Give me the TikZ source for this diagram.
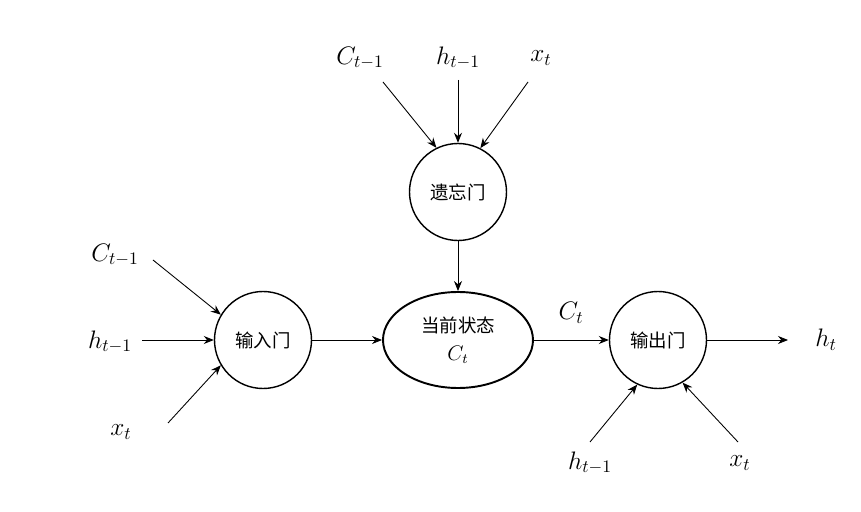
\documentclass[tikz,border=0pt]{standalone}
\usepackage{fontspec}
\newfontfamily\cjk{Noto Sans CJK SC}
\usetikzlibrary{shapes.geometric,arrows.meta}

\tikzset{
    gate/.style={draw, circle, line width=0.8pt, minimum size=1.94cm, font=\cjk\fontsize{10.5}{12}\selectfont},
    cellstate/.style={draw, ellipse, line width=1.1pt, minimum width=3cm, minimum height=1.92cm, align=center, font=\cjk\fontsize{10.5}{12}\selectfont},
    lbl/.style={font=\Large},
    flow/.style={-{Stealth[length=2mm,width=1.6mm]}, line width=0.5pt}
}

\begin{document}
\begin{tikzpicture}
    \useasboundingbox (0,0) rectangle (17.22,10.24);
    % gates and cell state
    \node[gate] (forget) at (9.16,6.40) {遗忘门};
    \node[gate] (input) at (5.26,3.44) {输入门};
    \node[cellstate] (state) at (9.16,3.44) {当前状态\\[4pt]{\normalfont\large $C_t$}};
    \node[gate] (output) at (13.16,3.44) {输出门};
    % input labels
    \node[lbl] (fC) at (7.20,9.08) {$C_{t-1}$};
    \node[lbl] (fh) at (9.16,9.08) {$h_{t-1}$};
    \node[lbl] (fx) at (10.82,9.08) {$x_t$};
    \node[lbl] (iC) at (2.30,5.14) {$C_{t-1}$};
    \node[lbl] (ih) at (2.20,3.40) {$h_{t-1}$};
    \node[lbl] (ix) at (2.42,1.60) {$x_t$};
    \node[lbl] (oh) at (11.80,0.98) {$h_{t-1}$};
    \node[lbl] (ox) at (14.80,0.98) {$x_t$};
    \node[lbl] (ht) at (16.52,3.44) {$h_t$};
    \node[lbl] (ct) at (11.42,3.98) {$C_t$};
    % free ends of the connectors
    \coordinate (fCs) at (7.66,8.60);
    \coordinate (fhs) at (9.16,8.64);
    \coordinate (fxs) at (10.56,8.60);
    \coordinate (iCs) at (3.06,5.04);
    \coordinate (ihs) at (2.84,3.44);
    \coordinate (ixs) at (3.36,1.78);
    \coordinate (ohs) at (11.80,1.40);
    \coordinate (oxs) at (14.76,1.40);
    \coordinate (hte) at (15.76,3.44);
    % connectors
    \draw[flow] (fCs) -- (forget.116);
    \draw[flow] (fhs) -- (forget.north);
    \draw[flow] (fxs) -- (forget.63);
    \draw[flow] (iCs) -- (input.149);
    \draw[flow] (ihs) -- (input.west);
    \draw[flow] (ixs) -- (input.211);
    \draw[flow] (ohs) -- (output.245);
    \draw[flow] (oxs) -- (output.300);
    \draw[flow] (forget) -- (state);
    \draw[flow] (input) -- (state);
    \draw[flow] (state) -- (output);
    \draw[flow] (output) -- (hte);
\end{tikzpicture}
\end{document}
